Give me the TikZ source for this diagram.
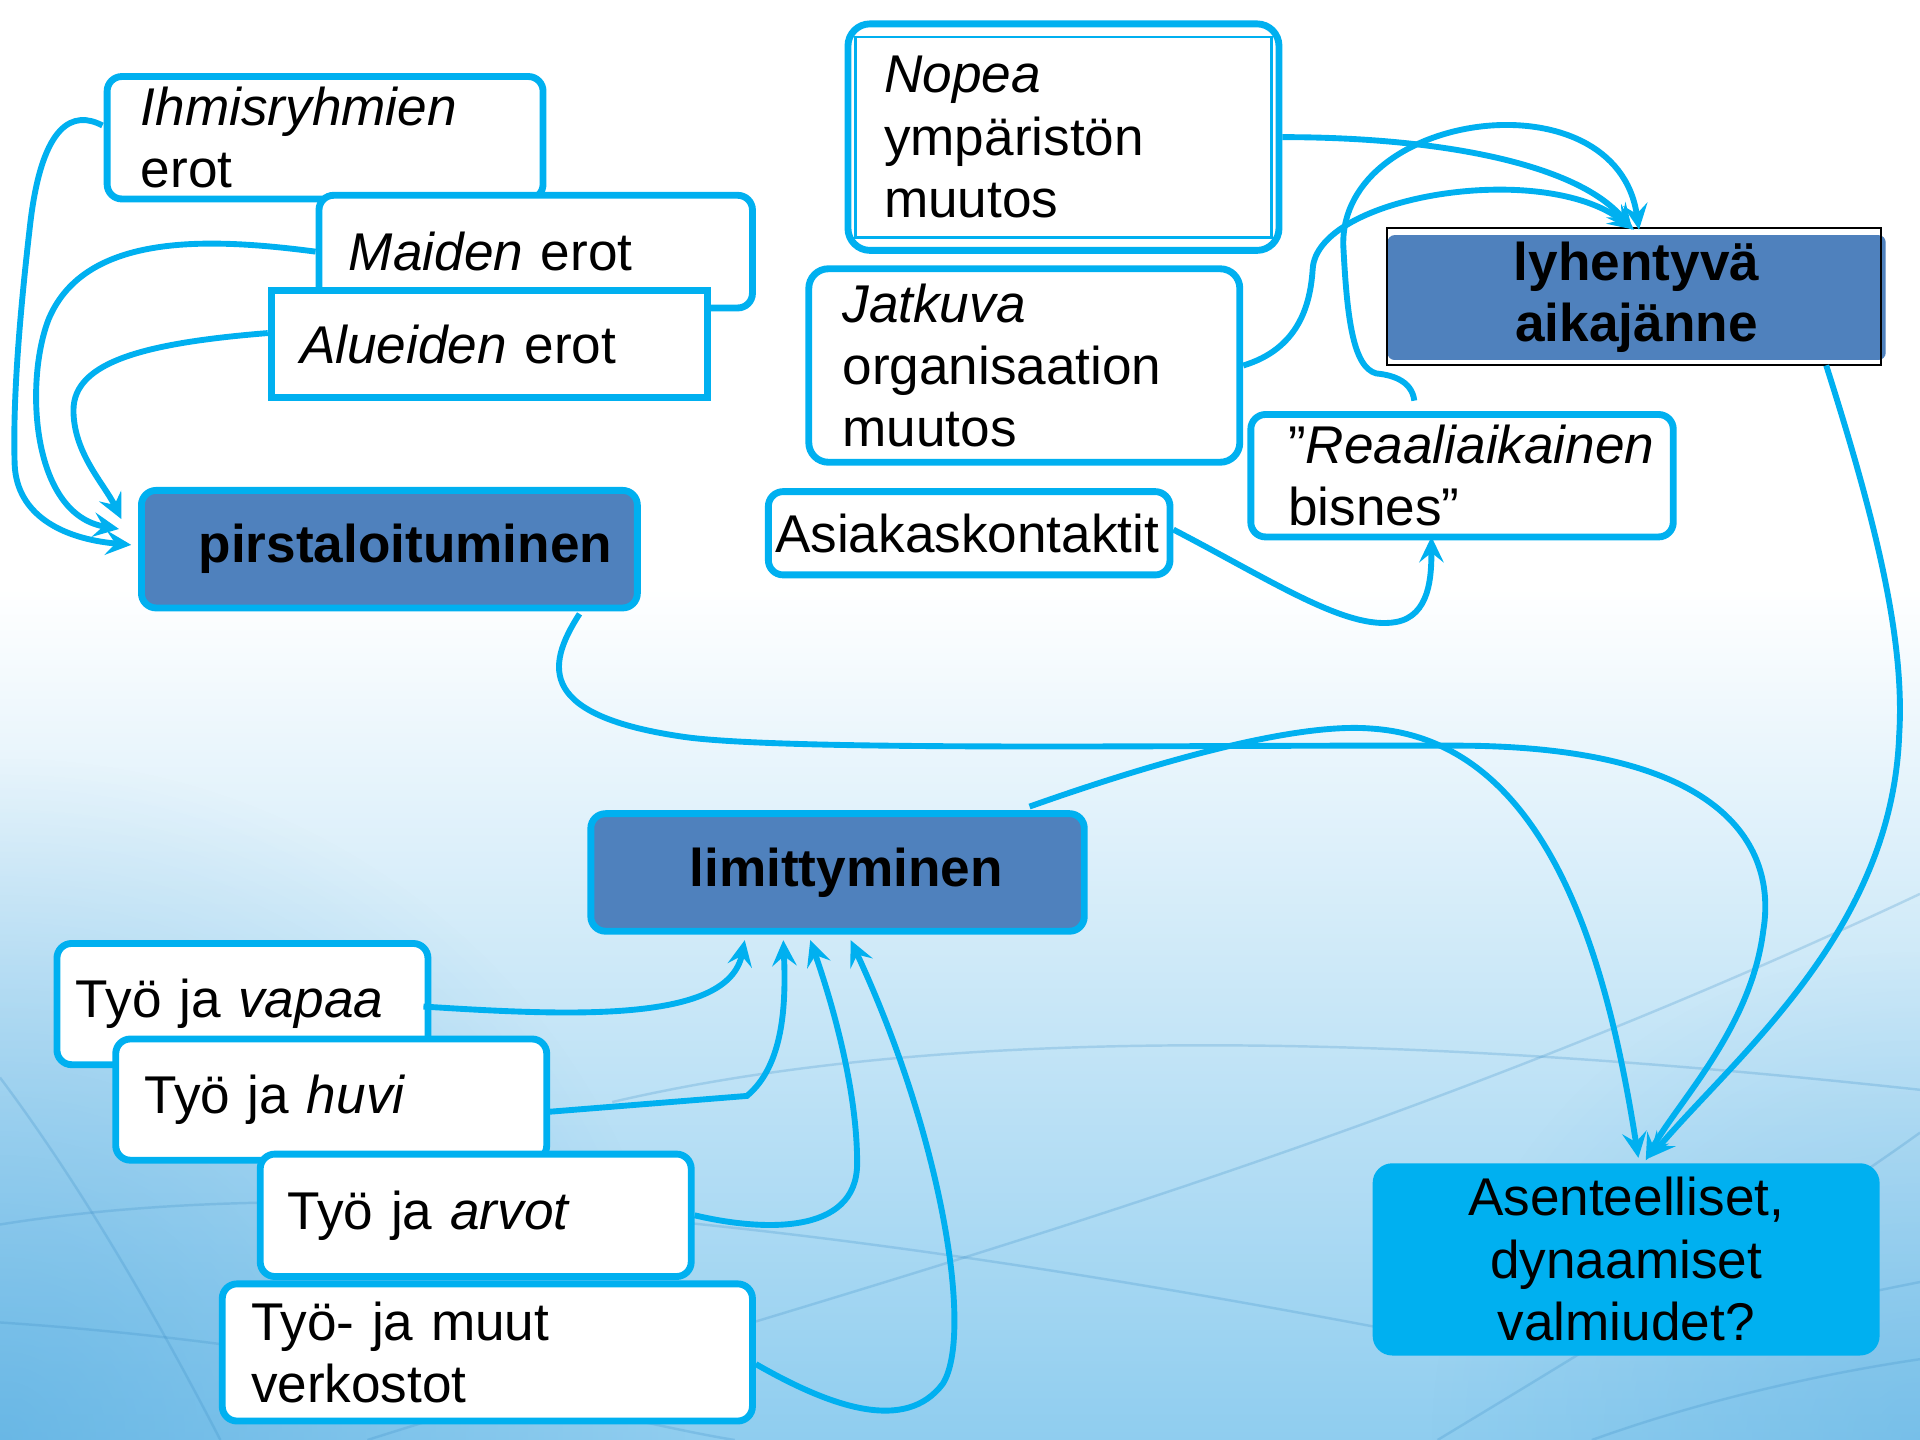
\documentclass[tikz,border=0pt]{standalone}
\usepackage{fontspec}
\setmainfont{Liberation Sans}
\usetikzlibrary{arrows.meta,fadings}
\definecolor{cy}{HTML}{00B0F0}
\definecolor{dk}{HTML}{4F81BD}
\definecolor{bgb}{HTML}{8FCDEF}
\definecolor{bgd}{HTML}{4AA6DE}
\definecolor{bgl}{HTML}{3D8FC8}
\tikzfading[name=myrad, inner color=transparent!0, outer color=transparent!100]
\begin{document}
\begin{tikzpicture}[x=0.5pt,y=-0.5pt,
  every node/.style={font=\fontsize{21.7}{25.5}\selectfont, text=black},
  wbox/.style={draw=cy, line width=2.8pt, fill=white, rounded corners=6pt, align=left, anchor=center, inner ysep=0pt},
  dbox/.style={draw=cy, line width=2.8pt, fill=dk, rounded corners=6pt, align=center, font=\fontsize{21.7}{25.5}\selectfont\bfseries},
  conn/.style={draw=cy, line width=2.4pt},
  arr/.style={conn, -{Stealth[length=10.5pt,width=10pt,inset=4pt]}},
  deco/.style={draw=bgl, opacity=0.25, line width=1pt},
]
\useasboundingbox (0,0) rectangle (1568,1176);
% background
\fill[white] (0,0) rectangle (1568,1176);
\shade[top color=white, bottom color=bgb] (0,480) rectangle (1568,1176);
\fill[bgd, opacity=0.55, path fading=myrad] (-560,620) rectangle (560,1732);
\fill[bgd, opacity=0.35, path fading=myrad] (1168,776) rectangle (1968,1576);
\draw[deco] (0,1000) .. controls (250,960) and (600,985) .. (1120,1083) .. controls (1300,1110) and (1450,1070) .. (1568,1047);
\draw[deco] (300,1176) .. controls (700,1050) and (1100,950) .. (1568,730);
\draw[deco] (0,880) .. controls (60,960) and (120,1060) .. (180,1176);
\draw[deco] (500,900) .. controls (800,830) and (1200,850) .. (1568,890);
\draw[deco] (1174,1176) .. controls (1250,1130) and (1450,1010) .. (1568,925);
\draw[deco] (0,1080) .. controls (300,1100) and (500,1160) .. (600,1176);
\draw[deco] (1300,1176) .. controls (1400,1140) and (1500,1120) .. (1568,1110);
% boxes
\node[wbox, minimum width=178pt, minimum height=50pt, text width=150.5pt, inner xsep=13.75pt] (ih) at (265.5,112.5) {\textit{Ihmisryhmien}\\erot};
\node[wbox, minimum width=177pt, minimum height=46pt, text width=152.5pt, inner xsep=12.25pt] (ma) at (437.5,205.5) {\textit{Maiden} erot};
\node[wbox, sharp corners, minimum width=178pt, minimum height=43.5pt, text width=154.5pt, inner xsep=11.75pt] (al) at (399.5,281) {\textit{Alueiden} erot};
\node[dbox, minimum width=202.5pt, minimum height=48pt] (pi) at (318,448.5) {\hspace*{13pt}pirstaloituminen};
\node[wbox, rounded corners=9pt, minimum width=176pt, minimum height=92.5pt, text width=146.5pt, inner xsep=14.75pt] (no) at (868.5,112) {\textit{Nopea}\\ympäristön\\muutos};
\draw[cy, line width=1pt] ([shift={(-170,-82)}]no.center) rectangle ([shift={(170,82)}]no.center);
\node[wbox, rounded corners=8pt, minimum width=176pt, minimum height=79pt, text width=148.5pt, inner xsep=13.75pt] (ja) at (836.5,298.5) {\textit{Jatkuva}\\organisaation\\muutos};
\node[fill=dk, rounded corners=3pt, minimum width=203.5pt, minimum height=51pt, align=center, inner sep=0pt, font=\fontsize{21.7}{25}\selectfont\bfseries] (ly) at (1336.5,243) {lyhentyvä\\aikajänne};
\draw[black, line width=0.8pt] ([shift={(-203.5,-57)}]ly.center) rectangle ([shift={(199.5,55)}]ly.center);
\node[wbox, minimum width=172.5pt, minimum height=50pt, text width=142pt, inner xsep=15.25pt] (re) at (1194,388.5) {\mbox{”\textit{Reaaliaikainen}}\\bisnes”};
\node[wbox, minimum width=164pt, minimum height=34pt, text width=158.5pt, inner xsep=2.75pt] (as) at (791.5,435.5) {\mbox{Asiakaskontaktit}};
\node[dbox, minimum width=201.5pt, minimum height=48pt] (li) at (684,712.5) {\hspace*{7pt}limittyminen};
\node[wbox, minimum width=151.5pt, minimum height=49.5pt, text width=136pt, inner xsep=7.75pt] (v) at (198,820) {Työ ja \textit{vapaa}};
\node[wbox, minimum width=176pt, minimum height=49.5pt, text width=152.5pt, inner xsep=11.75pt] (h) at (270.5,898) {Työ ja \textit{huvi}};
\node[wbox, minimum width=176pt, minimum height=50pt, text width=153.5pt, inner xsep=11.25pt] (ar) at (388.5,992.5) {Työ ja \textit{arvot}};
\node[wbox, minimum width=216.5pt, minimum height=56pt, text width=193pt, inner xsep=11.75pt] (ve) at (398,1104.5) {Työ- ja muut\\verkostot};
\node[fill=cy, rounded corners=8pt, minimum width=207pt, minimum height=78.5pt, align=center, inner sep=0pt] (at) at (1328,1028.5) {Asenteelliset,\\dynaamiset\\valmiudet?};
% connectors
\draw[arr] ([shift={(-1,-10)}]ih.west) .. controls (60,90) and (35,100) .. (25,180) .. controls (18,240) and (10,320) .. (12,380) .. controls (14,420) and (50,440) .. ([shift={(-5.5,-3.5)}]pi.west);
\draw[arr] (ma.west) .. controls (170,194) and (70,190) .. (40,260) .. controls (20,310) and (25,420) .. ([shift={(-15.5,-16.5)}]pi.west);
\draw[arr] ([shift={(0,-9)}]al.west) .. controls (120,280) and (60,295) .. (60,335) .. controls (60,370) and (85,395) .. ([shift={(-13.5,-24.5)}]pi.west);
\draw[arr] (no.east) .. controls (1180,112) and (1290,135) .. ([shift={(-3.5,-4)}]ly.north);
\draw[arr] ([shift={(-39,-8.5)}]re.north) .. controls (1153,310) and (1135,306) .. (1124,305) .. controls (1105,300) and (1100,260) .. (1097,200) .. controls (1095,90) and (1320,60) .. ([shift={(2,-4)}]ly.north);
\draw[arr] (ja.east) .. controls (1060,285) and (1070,250) .. (1072,220) .. controls (1075,160) and (1260,130) .. ([shift={(-2,-4)}]ly.north);
\draw[arr] ([shift={(0,-3)}]as.east) .. controls (1040,475) and (1100,515) .. (1140,508) .. controls (1168,503) and (1169,470) .. ([shift={(-25,-3)}]re.south);
\draw[arr] ([shift={(-49,4)}]ly.south east) .. controls (1530,420) and (1556,520) .. (1551,600) .. controls (1545,760) and (1420,860) .. ([shift={(19,-4)}]at.north);
\draw[arr] ([shift={(-50,2)}]pi.south east) .. controls (445,545) and (440,585) .. (560,602) .. controls (650,614) and (1000,608) .. (1200,609) .. controls (1420,612) and (1450,700) .. (1440,760) .. controls (1430,840) and (1370,900) .. ([shift={(16,-2)}]at.north);
\draw[arr] ([shift={(-47.5,-3)}]li.north east) .. controls (950,620) and (1060,590) .. (1120,595) .. controls (1270,605) and (1315,800) .. ([shift={(10,-4)}]at.north);
\draw[arr] ([shift={(-6.5,2)}]v.east) .. controls (470,830) and (595,835) .. ([shift={(128.5,4.5)}]li.south west);
\draw[arr] ([shift={(-1.5,10)}]h.east) -- (610,895) .. controls (640,870) and (642,820) .. ([shift={(160,4.5)}]li.south west);
\draw[arr] (ar.east) .. controls (620,1005) and (700,1010) .. (700,950) .. controls (700,890) and (680,820) .. ([shift={(182,4.5)}]li.south west);
\draw[arr] ([shift={(0,9.5)}]ve.east) .. controls (680,1150) and (740,1170) .. (770,1130) .. controls (795,1090) and (770,930) .. ([shift={(215,4.5)}]li.south west);
\end{tikzpicture}
\end{document}
